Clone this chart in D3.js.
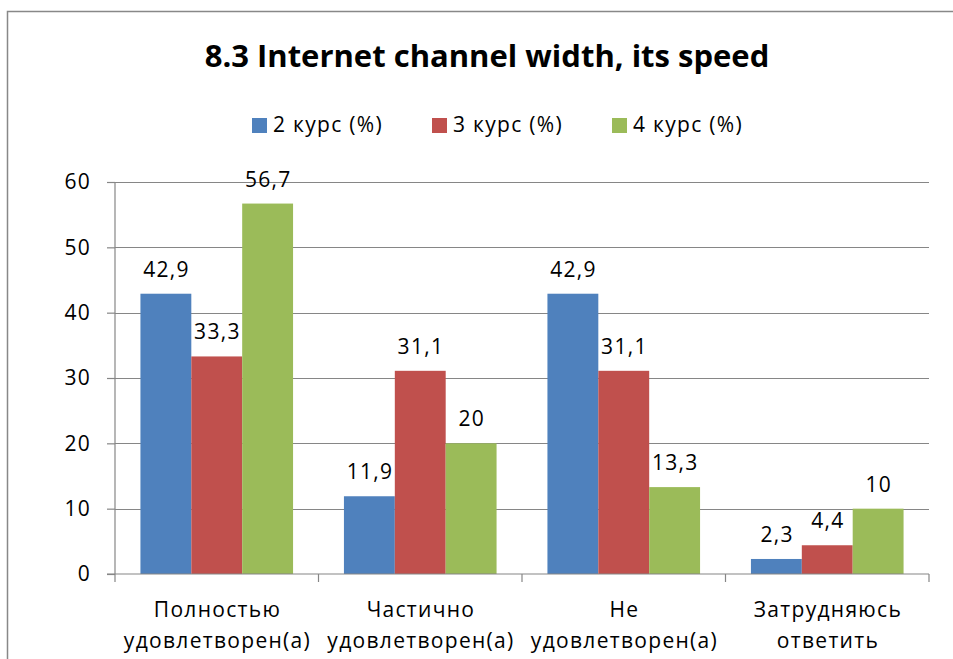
<!DOCTYPE html>
<html>
<head>
<meta charset="utf-8">
<script src="https://cdn.jsdelivr.net/npm/d3@7"></script>
<style>
  body { margin: 0; background: #fff; }
  text { font-family: "Open Sans", sans-serif; fill: #000; }
  .lbl { letter-spacing: 1.3px; }
</style>
</head>
<body>
<script>
// Chart data
var categories = [["Полностью", "удовлетворен(а)"], ["Частично", "удовлетворен(а)"], ["Не", "удовлетворен(а)"], ["Затрудняюсь", "ответить"]];
var seriesNames = ["2 курс (%)", "3 курс (%)", "4 курс (%)"];
var course2 = [42.9, 11.9, 42.9, 2.3];
var course3 = [33.3, 31.1, 31.1, 4.4];
var course4 = [56.7, 20, 13.3, 10];
var yTicks = [0, 10, 20, 30, 40, 50, 60];
var colors = ["#4F81BD", "#C0504D", "#9BBB59"];

var width = 953, height = 659;
var margin = {left: 115, right: 24, top: 182, bottom: 85};
var fs = 21;

var svg = d3.select("body").append("svg")
    .attr("width", width)
    .attr("height", height);

// Outer chart border
svg.append("path")
    .attr("d", "M7.5," + height + "V11.5H" + width)
    .attr("fill", "none")
    .attr("stroke", "#888")
    .attr("stroke-width", 1.5);

// Title
svg.append("text")
    .attr("x", 487)
    .attr("y", 67)
    .attr("text-anchor", "middle")
    .attr("font-weight", "bold")
    .attr("font-size", 31)
    .text("8.3 Internet channel width, its speed");

// Scales
var x0 = d3.scaleBand()
    .domain(d3.range(categories.length))
    .range([margin.left, width - margin.right]);

var x1 = d3.scaleBand()
    .domain(d3.range(seriesNames.length))
    .range([0, x0.bandwidth()])
    .paddingOuter(0.5);

var y = d3.scaleLinear()
    .domain([0, 60])
    .range([height - margin.bottom, margin.top]);

// Gridlines
svg.append("g")
    .selectAll("line")
    .data(yTicks.slice(1))
    .enter().append("line")
    .attr("x1", margin.left)
    .attr("x2", width - margin.right)
    .attr("y1", function(d) { return Math.round(y(d)) + 0.5; })
    .attr("y2", function(d) { return Math.round(y(d)) + 0.5; })
    .attr("stroke", "#868686")
    .attr("stroke-width", 1.2);

// Bars
var series = [course2, course3, course4];
var groups = svg.append("g")
    .selectAll("g")
    .data(series)
    .enter().append("g")
    .attr("fill", function(d, i) { return colors[i]; });

groups.each(function(vals, si) {
    var g = d3.select(this);
    g.selectAll("rect")
        .data(vals)
        .enter().append("rect")
        .attr("x", function(d, ci) { return x0(ci) + x1(si); })
        .attr("width", x1.bandwidth())
        .attr("y", function(d) { return y(d); })
        .attr("height", function(d) { return y(0) - y(d); });

    g.selectAll("text")
        .data(vals)
        .enter().append("text")
        .attr("class", "lbl")
        .attr("x", function(d, ci) { return x0(ci) + x1(si) + x1.bandwidth() / 2 + 0.7; })
        .attr("y", function(d) { return y(d) - 17; })
        .attr("text-anchor", "middle")
        .attr("font-size", fs)
        .text(function(d) { return String(d).replace(".", ","); });
});

// Y axis
var yAxis = svg.append("g")
    .attr("transform", "translate(" + margin.left + ",0)")
    .call(d3.axisLeft(y).tickValues(yTicks).tickSize(8).tickPadding(16));
yAxis.selectAll("line, path").attr("stroke", "#868686").attr("stroke-width", 1.2);
yAxis.select(".domain").attr("d", "M0," + y(0) + "V" + y(60));
yAxis.selectAll("text").attr("class", "lbl").attr("font-size", fs).attr("font-family", null);

// X axis
var xAxis = svg.append("g")
    .attr("transform", "translate(0," + y(0) + ")");
xAxis.append("line")
    .attr("x1", margin.left - 8)
    .attr("x2", width - margin.right)
    .attr("stroke", "#868686")
    .attr("stroke-width", 1.2);
xAxis.selectAll(".tick")
    .data(d3.range(categories.length + 1))
    .enter().append("line")
    .attr("class", "tick")
    .attr("x1", function(d) { return d < categories.length ? x0(d) : width - margin.right; })
    .attr("x2", function(d) { return d < categories.length ? x0(d) : width - margin.right; })
    .attr("y2", 8)
    .attr("stroke", "#868686")
    .attr("stroke-width", 1.2);

var labels = xAxis.selectAll(".cat")
    .data(categories)
    .enter().append("text")
    .attr("class", "cat lbl")
    .attr("text-anchor", "middle")
    .attr("font-size", fs)
    .attr("transform", function(d, i) { return "translate(" + (x0(i) + x0.bandwidth() / 2 + 0.7) + ",0)"; });
labels.selectAll("tspan")
    .data(function(d) { return d; })
    .enter().append("tspan")
    .attr("x", 0)
    .attr("y", function(d, i) { return 43 + i * 31; })
    .text(function(d) { return d; });

// Legend
var legend = svg.append("g")
    .selectAll("g")
    .data(seriesNames)
    .enter().append("g")
    .attr("transform", function(d, i) { return "translate(" + (252 + i * 180) + ",118)"; });
legend.append("rect")
    .attr("width", 15)
    .attr("height", 15)
    .attr("fill", function(d, i) { return colors[i]; });
legend.append("text")
    .attr("class", "lbl")
    .attr("x", 21)
    .attr("y", 14)
    .attr("font-size", fs)
    .text(function(d) { return d; });
</script>
</body>
</html>
